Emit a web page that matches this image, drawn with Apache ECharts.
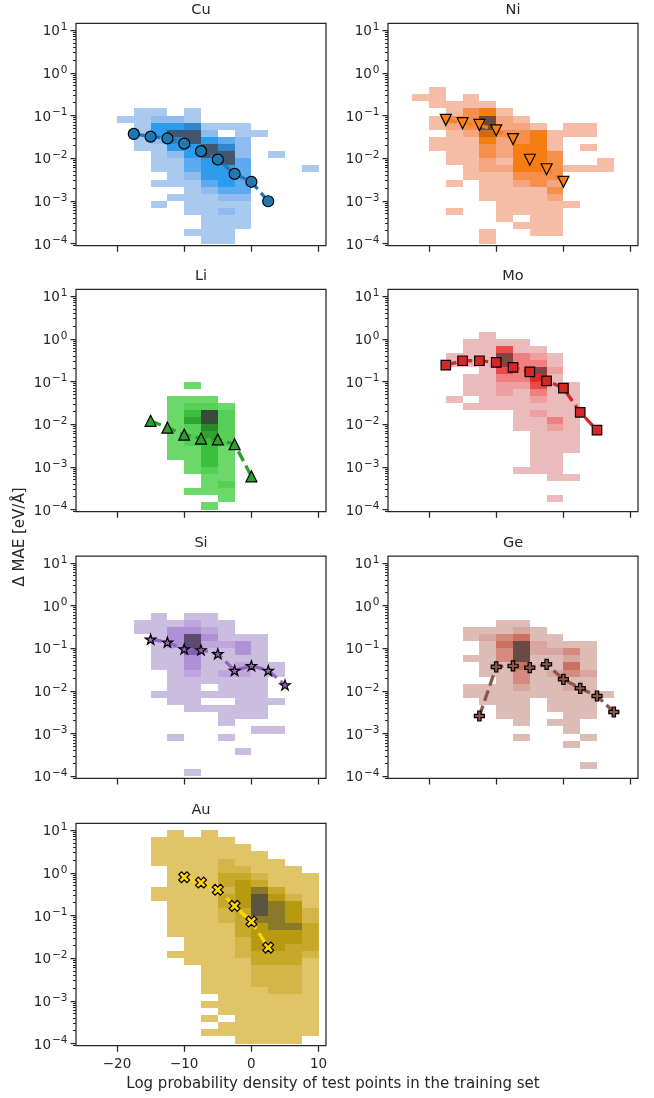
<!DOCTYPE html>
<html><head><meta charset="utf-8">
<script src="https://cdn.jsdelivr.net/npm/echarts@6/dist/echarts.min.js"></script>
<style>html,body{margin:0;padding:0;background:#fff}#c{width:654px;height:1098px}</style>
</head><body><div id="c"></div>
<script>
// ---------------- data ----------------
const elements = ['Cu', 'Ni', 'Li', 'Mo', 'Si', 'Ge', 'Au'];
const xTicks = [-20, -10, 0, 10];
const yTicks = [1e-4, 1e-3, 1e-2, 1e-1, 1, 10];
const xLabel = 'Log probability density of test points in the training set';
const yLabel = 'Δ MAE [eV/Å]';

// histogram bins: x bins of width 2.5 starting at -25, y bins 1/6 decade starting at 1e-4
const X_BIN_START = -25, X_BIN_WIDTH = 2.5;
const Y_BIN_START_EXP = -4, Y_BINS_PER_DECADE = 6;

// rows: [yBin, first xBin, count level per xBin]
const cuHist = [
  [18, 3, [1, 1, 0, 1]], [17, 2, [1, 1, 2, 2, 1]], [16, 3, [1, 4, 4, 5, 1, 1, 1]],
  [15, 3, [1, 4, 6, 6, 2, 0, 1, 1]], [14, 3, [1, 2, 5, 6, 4, 3, 2]], [13, 3, [1, 1, 4, 4, 6, 5, 2]],
  [12, 4, [1, 2, 4, 6, 6, 2, 0, 1]], [11, 4, [1, 1, 3, 4, 6, 3]], [10, 4, [1, 1, 3, 4, 4, 3, 0, 0, 0, 1]],
  [9, 5, [1, 2, 4, 4, 3]], [8, 4, [1, 1, 1, 3, 4, 3]], [7, 6, [1, 2, 3, 3]], [6, 5, [1, 1, 1, 2, 2]],
  [5, 4, [1, 0, 1, 1, 1, 1]], [4, 6, [1, 1, 2, 1]], [3, 7, [1, 1, 1]], [2, 7, [1, 1, 1]],
  [1, 6, [1, 1, 1]], [0, 7, [1, 1]]
];
const niHist = [
  [21, 2, [1]], [20, 1, [1, 1, 0, 1]], [19, 2, [1, 1, 1, 1]], [18, 3, [1, 3, 4, 1]],
  [17, 2, [1, 3, 3, 6, 2, 1]], [16, 2, [1, 2, 3, 6, 2, 2, 1, 0, 1, 1]], [15, 3, [1, 2, 5, 3, 3, 4, 1, 1, 1]],
  [14, 2, [1, 1, 1, 4, 2, 3, 4, 1]], [13, 2, [1, 1, 1, 3, 2, 4, 4, 1, 0, 1]], [12, 3, [1, 1, 3, 2, 4, 4, 3]],
  [11, 3, [1, 1, 2, 1, 4, 4, 3, 0, 0, 1]], [10, 4, [1, 2, 2, 4, 4, 3, 1, 1, 1]], [9, 4, [1, 1, 1, 3, 3, 3]],
  [8, 3, [1, 0, 1, 1, 2, 3, 2]], [7, 5, [1, 1, 1, 1, 3]], [6, 5, [1, 1, 1, 1, 2]], [5, 6, [1, 1, 1, 1, 1]],
  [4, 3, [1, 0, 0, 1, 1, 1, 1]], [3, 6, [1, 0, 1, 1]], [2, 7, [1, 1, 1]], [1, 5, [1, 0, 0, 1, 1]], [0, 5, [1]]
];
const liHist = [
  [17, 6, [1]], [15, 5, [1, 1, 1]], [14, 5, [1, 2, 2, 1]], [13, 5, [1, 3, 6, 2]], [12, 5, [1, 4, 6, 2]],
  [11, 5, [1, 2, 5, 2]], [10, 5, [1, 2, 4, 2]], [9, 5, [1, 2, 3, 2]], [8, 5, [1, 1, 3, 1]], [7, 5, [1, 1, 3, 1]],
  [6, 6, [1, 3, 1]], [5, 6, [1, 2, 1]], [4, 7, [1, 1]], [3, 7, [1, 2]], [2, 6, [1, 1, 1]], [1, 8, [1]], [0, 7, [1]]
];
const moHist = [
  [24, 5, [1]], [23, 4, [1, 1, 1, 1]], [22, 4, [1, 1, 4, 1, 1]], [21, 3, [1, 1, 1, 6, 3, 2, 1]],
  [20, 3, [1, 1, 1, 6, 3, 3, 1]], [19, 5, [1, 4, 3, 6, 2]], [18, 4, [1, 1, 3, 3, 5, 1]],
  [17, 4, [1, 1, 2, 2, 4, 1, 1]], [16, 4, [1, 1, 2, 1, 3, 1, 1]], [15, 3, [1, 0, 1, 1, 1, 2, 1, 1]],
  [14, 4, [1, 1, 1, 1, 1, 1, 1]], [13, 7, [1, 2, 1, 1]], [12, 7, [1, 1, 3, 1]], [11, 7, [1, 1, 2, 1]],
  [10, 8, [1, 1, 1]], [9, 8, [1, 1, 1]], [8, 8, [1, 1, 1]], [7, 8, [1, 1]], [6, 8, [1, 1]],
  [5, 7, [1, 1, 1]], [4, 9, [1, 1]], [1, 9, [1]]
];
const siHist = [
  [22, 4, [1, 0, 1, 1]], [21, 3, [1, 1, 1, 2, 1, 1]], [20, 3, [1, 1, 3, 3, 2, 1]],
  [19, 4, [1, 3, 6, 3, 1, 1, 1]], [18, 4, [1, 3, 6, 2, 2, 3, 1]], [17, 4, [1, 1, 5, 1, 1, 3, 1]],
  [16, 4, [1, 1, 3, 1, 1, 1, 1]], [15, 4, [1, 1, 3, 1, 1, 2, 1, 1]], [14, 5, [1, 2, 1, 2, 2, 1, 1]],
  [13, 5, [1, 1, 1, 1, 1, 1]], [12, 5, [1, 1, 0, 1, 1, 1]], [11, 4, [1, 1, 1, 1, 1, 1, 1]],
  [10, 5, [1, 1, 0, 0, 1, 1, 1]], [9, 6, [1, 1, 1, 1, 1]], [8, 8, [1, 1, 1]], [7, 8, [1]],
  [6, 10, [1, 1]], [5, 5, [1, 0, 0, 1]], [3, 9, [1]], [0, 6, [1]]
];
const geHist = [
  [21, 6, [1, 1]], [20, 4, [1, 1, 1, 2, 1]], [19, 4, [1, 2, 3, 4, 1, 1]], [18, 5, [1, 4, 6, 2, 1, 1, 1]],
  [17, 5, [1, 3, 6, 2, 2, 3, 1]], [16, 4, [1, 1, 3, 6, 1, 1, 2, 1]], [15, 5, [1, 1, 4, 1, 1, 4, 1]],
  [14, 5, [1, 1, 3, 1, 2, 3, 2]], [13, 6, [1, 3, 1, 1, 1, 1]], [12, 4, [1, 1, 1, 2, 1, 1, 2, 1]],
  [11, 4, [1, 1, 1, 1, 1, 1, 1, 1, 1]], [10, 5, [1, 1, 1, 0, 1, 1, 1]], [9, 6, [1, 1, 0, 1, 1, 1]],
  [8, 6, [1, 1, 0, 0, 1, 1]], [7, 7, [1, 0, 1, 1]], [6, 10, [1]], [5, 7, [1, 0, 0, 0, 1]],
  [4, 10, [1]], [1, 11, [1]]
];
const auHist = [
  [29, 5, [1, 0, 1]], [28, 4, [1, 1, 1, 1, 1]], [27, 4, [1, 1, 1, 1, 1, 1]], [26, 4, [1, 1, 1, 1, 1, 1, 1]],
  [25, 4, [1, 1, 1, 1, 2, 1, 1, 1]], [24, 5, [1, 1, 1, 2, 2, 1, 1, 1]], [23, 5, [1, 1, 1, 3, 3, 2, 1, 1, 1]],
  [22, 5, [1, 1, 1, 3, 4, 3, 1, 1, 1]], [21, 4, [1, 1, 1, 1, 2, 4, 5, 3, 1, 1]],
  [20, 4, [1, 1, 1, 1, 3, 4, 6, 4, 2, 1]], [19, 5, [1, 1, 1, 3, 4, 6, 5, 4, 1]],
  [18, 5, [1, 1, 1, 2, 3, 6, 5, 4, 2]], [17, 5, [1, 1, 1, 2, 3, 5, 5, 4, 2]],
  [16, 5, [1, 1, 1, 1, 3, 4, 5, 5, 3]], [15, 5, [1, 1, 1, 1, 3, 4, 4, 4, 3]],
  [14, 6, [1, 1, 1, 2, 4, 4, 4, 3]], [13, 6, [1, 1, 1, 2, 4, 4, 3, 3]], [12, 5, [1, 1, 1, 1, 2, 3, 3, 3, 2]],
  [11, 6, [1, 1, 1, 1, 3, 3, 3, 1]], [10, 7, [1, 1, 1, 2, 2, 2, 1]], [9, 7, [1, 1, 1, 2, 2, 2, 1]],
  [8, 7, [1, 1, 1, 2, 2, 2, 1]], [7, 7, [1, 1, 1, 1, 2, 2, 1]], [6, 8, [1, 1, 1, 1, 1, 1]],
  [5, 7, [1, 1, 1, 1, 1, 1, 1]], [4, 8, [1, 1, 1, 1, 1, 1]], [3, 7, [1, 0, 1, 1, 1, 1, 1]],
  [2, 8, [1, 1, 1, 1, 1, 1]], [1, 7, [1, 1, 1, 1, 1, 1, 1]], [0, 9, [1, 1, 1, 1]]
];

// mean curves (x at bin edges, y = mean Δ MAE)
const cuX = [-17.5, -15, -12.5, -10, -7.5, -5, -2.5, 0, 2.5];
const cuY = [0.037, 0.032, 0.029, 0.022, 0.0146, 0.0093, 0.0043, 0.0028, 0.00098];
const niX = [-17.5, -15, -12.5, -10, -7.5, -5, -2.5, 0];
const niY = [0.079, 0.066, 0.06, 0.045, 0.028, 0.0092, 0.0055, 0.0028];
const liX = [-15, -12.5, -10, -7.5, -5, -2.5, 0];
const liY = [0.012, 0.0083, 0.0057, 0.0046, 0.0044, 0.0034, 0.0006];
const moX = [-17.5, -15, -12.5, -10, -7.5, -5, -2.5, 0, 2.5, 5];
const moY = [0.242, 0.306, 0.306, 0.28, 0.214, 0.169, 0.104, 0.07, 0.019, 0.0073];
const siX = [-15, -12.5, -10, -7.5, -5, -2.5, 0, 2.5, 5];
const siY = [0.162, 0.138, 0.096, 0.091, 0.074, 0.030, 0.039, 0.030, 0.0138];
const geX = [-12.5, -10, -7.5, -5, -2.5, 0, 2.5, 5, 7.5];
const geY = [0.00258, 0.0365, 0.0385, 0.035, 0.042, 0.0187, 0.0115, 0.0076, 0.0032];
const auX = [-10, -7.5, -5, -2.5, 0, 2.5];
const auY = [0.79, 0.59, 0.40, 0.168, 0.072, 0.0177];

// ---------------- styles ----------------
const FONT = 'DejaVu Sans';
const INK = '#262626';
const markerColors = ['#1f77b4', '#ff7f0e', '#2ca02c', '#d62728', '#9467bd', '#8c564b', '#ffd700'];
const palettes = [
  ['#a9c9ef', '#8fbbf0', '#5caaf0', '#2e9cec', '#2f86c8', '#435670'],
  ['#f5bda5', '#f5a680', '#f58f4a', '#f57d12', '#d06a10', '#6a4a38'],
  ['#6ad96a', '#55cf55', '#3cbf3c', '#2ea52e', '#2a8a2a', '#3a4a3a'],
  ['#ebbaba', '#eea0a0', '#f08080', '#ea4a4a', '#e02a2a', '#844444'],
  ['#cbbde0', '#bfa6dc', '#b090d6', '#9a70c8', '#8060b0', '#5c4a6e'],
  ['#ddbcb6', '#d8a8a0', '#d48a7c', '#cc7060', '#b05848', '#6a4a44'],
  ['#e0c468', '#d4b648', '#c8a828', '#b89a10', '#8a7a28', '#5a5440']
];
const starPath = 'path://M0,-1L0.225,-0.309L0.951,-0.309L0.363,0.118L0.588,0.809L0,0.382L-0.588,0.809L-0.363,0.118L-0.951,-0.309L-0.225,-0.309Z';
const plusPath = 'path://M2,0L4,0L4,2L6,2L6,4L4,4L4,6L2,6L2,4L0,4L0,2L2,2Z';
const markers = [
  { symbol: 'circle', size: 11, rotate: 0 },
  { symbol: 'triangle', size: 11, rotate: 180 },
  { symbol: 'triangle', size: 11, rotate: 0 },
  { symbol: 'rect', size: 9.5, rotate: 0 },
  { symbol: starPath, size: 10.5, rotate: 0 },
  { symbol: plusPath, size: 10, rotate: 0 },
  { symbol: plusPath, size: 11.5, rotate: 45 }
];

const hists = [cuHist, niHist, liHist, moHist, siHist, geHist, auHist];
const curves = [[cuX, cuY], [niX, niY], [liX, liY], [moX, moY], [siX, siY], [geX, geY], [auX, auY]];

// ---------------- layout ----------------
const colLeft = [76, 388];
const gridW = 250, gridH = 222.4;
const rowTop = [23.3, 289.3, 556, 823.3];
const X_MIN = -26.1, X_MAX = 11.1;
const Y_MIN = Math.pow(10, -4.05), Y_MAX = Math.pow(10, 1.16);

const minorVals = [];
for (let n = -5; n <= 1; n++) for (let k = 2; k <= 9; k++) {
  const v = k * Math.pow(10, n);
  if (v >= Y_MIN && v <= Y_MAX) minorVals.push(v);
}

function expand(rows) {
  const out = [];
  rows.forEach(([j, i0, lv]) => lv.forEach((v, k) => {
    if (v > 0) {
      const x = X_BIN_START + (i0 + k) * X_BIN_WIDTH;
      const y0 = Math.pow(10, Y_BIN_START_EXP + j / Y_BINS_PER_DECADE);
      const y1 = Math.pow(10, Y_BIN_START_EXP + (j + 1) / Y_BINS_PER_DECADE);
      out.push([x, y0, y1, v]);
    }
  }));
  return out;
}

function supLabel(v) {
  const e = Math.round(Math.log10(v));
  return '{b|10}{s|' + (e < 0 ? '\u2212' + (-e) : String(e)) + '}';
}

const grids = [], xAxes = [], yAxes = [], series = [], visualMaps = [], graphics = [];
elements.forEach((el, p) => {
  const row = Math.floor(p / 2), col = p % 2;
  const left = colLeft[col], top = rowTop[row];
  grids.push({ left: left, top: top, width: gridW, height: gridH, show: true,
    borderColor: INK, borderWidth: 1.25, backgroundColor: '#fff', containLabel: false });
  const showXLabels = (p === 6);
  xAxes.push({
    type: 'value', gridIndex: p, min: X_MIN, max: X_MAX,
    axisLine: { show: false, onZero: false },
    splitLine: { show: false },
    axisTick: { show: true, customValues: xTicks, length: 6, lineStyle: { color: INK, width: 1.25 } },
    axisLabel: { show: showXLabels, customValues: xTicks, margin: 12, color: INK, fontSize: 13.5, fontFamily: FONT,
      formatter: v => String(v).replace('-', '\u2212') }
  });
  yAxes.push({
    type: 'log', gridIndex: p, min: Y_MIN, max: Y_MAX, logBase: 10,
    axisLine: { show: false, onZero: false },
    splitLine: { show: false },
    axisTick: { show: true, customValues: yTicks, length: 5.5, lineStyle: { color: INK, width: 1.25 } },
    axisLabel: { show: true, customValues: yTicks, margin: 8.5, formatter: supLabel,
      rich: {
        b: { fontSize: 13.5, fontFamily: FONT, color: INK, verticalAlign: 'bottom', lineHeight: 17 },
        s: { fontSize: 10.5, fontFamily: FONT, color: INK, verticalAlign: 'top', lineHeight: 11, padding: [0, 0, 0, 1] }
      } }
  });
  yAxes.push({
    type: 'log', gridIndex: p, min: Y_MIN, max: Y_MAX, logBase: 10, position: 'left',
    axisLine: { show: false, onZero: false },
    splitLine: { show: false },
    axisTick: { show: true, customValues: minorVals, length: 3, lineStyle: { color: INK, width: 1 } },
    axisLabel: { show: false }
  });
  series.push({
    type: 'custom', xAxisIndex: p, yAxisIndex: 2 * p, z: 1,
    data: expand(hists[p]),
    encode: { x: 0, y: 1 },
    renderItem: (params, api) => {
      const a = api.coord([api.value(0), api.value(1)]);
      const b = api.coord([api.value(0) + X_BIN_WIDTH, api.value(2)]);
      const x0 = Math.round(a[0]), x1 = Math.round(b[0]);
      const y0 = Math.round(b[1]), y1 = Math.round(a[1]);
      return { type: 'rect',
        shape: { x: x0, y: y0, width: x1 - x0, height: y1 - y0 },
        style: { fill: api.visual('color') } };
    }
  });
  visualMaps.push({ type: 'continuous', show: false, seriesIndex: 2 * p, dimension: 3,
    min: 1, max: 6, inRange: { color: palettes[p] } });
  const [cx, cy] = curves[p];
  const m = markers[p];
  series.push({
    type: 'line', xAxisIndex: p, yAxisIndex: 2 * p, z: 5,
    data: cx.map((x, k) => [x, cy[k]]),
    symbol: m.symbol, symbolSize: m.size, symbolRotate: m.rotate, symbolKeepAspect: true,
    showAllSymbol: true,
    lineStyle: { color: markerColors[p], width: 3.3, type: [11, 5] },
    itemStyle: { color: markerColors[p], borderColor: '#000', borderWidth: 1.2 },
    emphasis: { disabled: true },
    animation: false
  });
  graphics.push({ type: 'text', x: left + gridW / 2, y: top - 13,
    style: { text: el, fontSize: 14.5, fontFamily: FONT, fill: INK, textAlign: 'center', textVerticalAlign: 'middle' } });
});
graphics.push({ type: 'text', x: 333, y: 1084,
  style: { text: xLabel, fontSize: 15, fontFamily: FONT, fill: INK, textAlign: 'center', textVerticalAlign: 'middle' } });
graphics.push({ type: 'text', x: 20, y: 537, rotation: Math.PI / 2,
  style: { text: yLabel, fontSize: 15, fontFamily: FONT, fill: INK, textAlign: 'center', textVerticalAlign: 'middle' } });

const chart = echarts.init(document.getElementById('c'), null, { renderer: 'canvas' });
chart.setOption({
  animation: false,
  backgroundColor: '#fff',
  grid: grids, xAxis: xAxes, yAxis: yAxes, series: series,
  visualMap: visualMaps, graphic: graphics
});
</script></body></html>
